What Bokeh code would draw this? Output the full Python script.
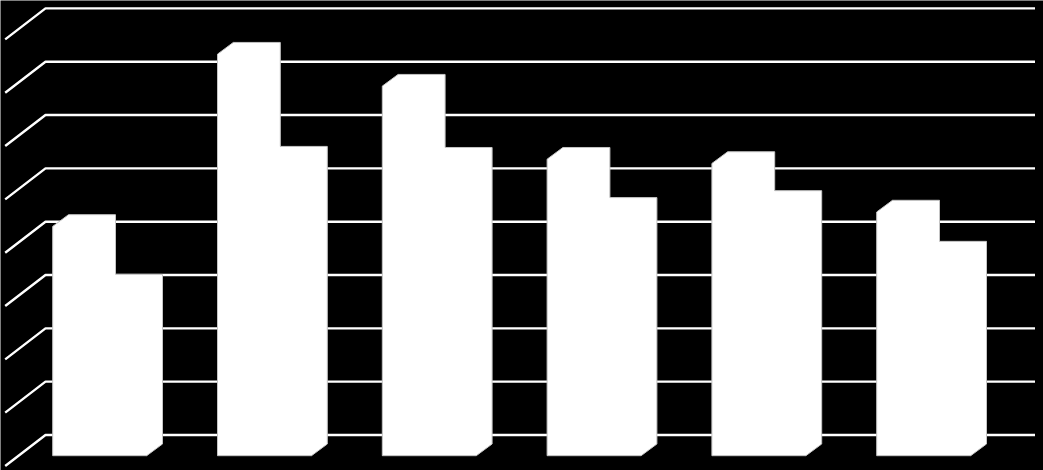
from bokeh.embed import file_html
from bokeh.models import ColumnDataSource, Range1d
from bokeh.plotting import figure
from bokeh.resources import INLINE

# Values, in gridline units
categories = ["1", "2", "3", "4", "5", "6"]
series_a = [4.30, 7.53, 6.93, 5.56, 5.48, 4.57]
series_b = [3.18, 5.58, 5.56, 4.62, 4.75, 3.80]
grid_levels = [0, 1, 2, 3, 4, 5, 6, 7, 8]

W, H = 1043, 470
PX_PER_CAT = 164.8
PX_PER_UNIT = 53.33
ZERO_PX = 434.5      # pixel row of the value 0 on the back wall
FIRST_PX = 52.2      # pixel column of category 0's left front edge

x_range = Range1d(-FIRST_PX / PX_PER_CAT, (W - FIRST_PX) / PX_PER_CAT)
y_range = Range1d((ZERO_PX - H) / PX_PER_UNIT, ZERO_PX / PX_PER_UNIT)

# 3D projection constants, expressed in data units
BAR_W = 47.0 / PX_PER_CAT
DEPTH_X = 15.8 / PX_PER_CAT
DEPTH_Y = 11.7 / PX_PER_UNIT
BAR_BACK = -9.0 / PX_PER_UNIT
WALL_L = (45.0 - FIRST_PX) / PX_PER_CAT
WALL_R = (1034.5 - FIRST_PX) / PX_PER_CAT
WALL_DX = 40.3 / PX_PER_CAT
WALL_DY = 31.0 / PX_PER_UNIT

p = figure(width=W, height=H, x_range=x_range, y_range=y_range,
           output_backend="svg", toolbar_location=None,
           background_fill_color="black", border_fill_color="black",
           outline_line_color=None, min_border=0, margin=(0, 0, 0, 0))
p.axis.visible = False
p.grid.visible = False

grid_xs, grid_ys = [], []
for lv in grid_levels:
    grid_xs.append([WALL_L - WALL_DX, WALL_L, WALL_R])
    grid_ys.append([lv - WALL_DY, lv, lv])
p.multi_line(grid_xs, grid_ys, line_color="white", line_width=2.4)

xs, ys = [], []
for i, (a, b) in enumerate(zip(series_a, series_b)):
    front_r = i + 2 * BAR_W
    ta = BAR_BACK + a
    tb = BAR_BACK + b
    xs.append([i, i, i + DEPTH_X, i + BAR_W + DEPTH_X, i + BAR_W + DEPTH_X,
               front_r + DEPTH_X, front_r + DEPTH_X, front_r, i])
    ys.append([BAR_BACK - DEPTH_Y, ta - DEPTH_Y, ta, ta, tb, tb, BAR_BACK,
               BAR_BACK - DEPTH_Y, BAR_BACK - DEPTH_Y])
src = ColumnDataSource(dict(xs=xs, ys=ys, cat=categories))
p.patches("xs", "ys", source=src, fill_color="white", line_color="#c4c4c4", line_width=1)

open("out.html", "w").write(file_html(p, INLINE))
